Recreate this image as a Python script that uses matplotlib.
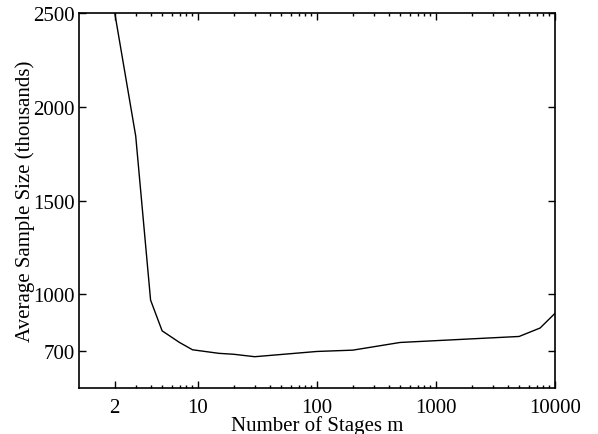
import matplotlib
matplotlib.use("Agg")
import matplotlib.pyplot as plt
from matplotlib.ticker import FixedLocator, FixedFormatter, LogLocator, NullFormatter

plt.rcParams['font.family'] = ['Liberation Serif', 'DejaVu Serif']

# values
stages = [2, 3, 4, 5, 7, 9, 15, 20, 30, 100, 200, 500, 5000, 7500, 10000]
avg_size = [2500, 1844, 969, 805, 743, 704, 685, 680, 667, 695, 702, 743, 775, 820, 898]

x_ticks = [2, 10, 100, 1000, 10000]
x_labels = ['2', '10', '100', '1000', '10000']
y_ticks = [700, 1000, 1500, 2000, 2500]

fig = plt.figure(figsize=(5.98, 4.35), dpi=100)
ax = fig.add_axes([0.132, 0.1057, 0.796, 0.862])

ax.plot(stages, avg_size, color='black', linewidth=1.0)

ax.set_xscale('log')
ax.set_xlim(1, 10000)
ax.set_ylim(500, 2500)

ax.xaxis.set_major_locator(FixedLocator(x_ticks))
ax.xaxis.set_major_formatter(FixedFormatter(x_labels))
ax.xaxis.set_minor_locator(LogLocator(base=10, subs=range(2, 10), numticks=20))
ax.xaxis.set_minor_formatter(NullFormatter())
ax.set_yticks(y_ticks)
ax.set_yticklabels([str(v) for v in y_ticks])

ax.tick_params(which='both', direction='in', top=True, right=True, labelsize=15, width=1.0)
ax.tick_params(which='major', length=5)
ax.tick_params(which='minor', length=2.5)
ax.tick_params(axis='x', pad=7)
ax.tick_params(axis='y', pad=3)
for s in ax.spines.values():
    s.set_linewidth(1.2)

ax.set_xlabel('Number of Stages m', fontsize=15, labelpad=-1)
ax.set_ylabel('Average Sample Size (thousands)', fontsize=15, labelpad=-1)

fig.savefig('out.png', dpi=100)
